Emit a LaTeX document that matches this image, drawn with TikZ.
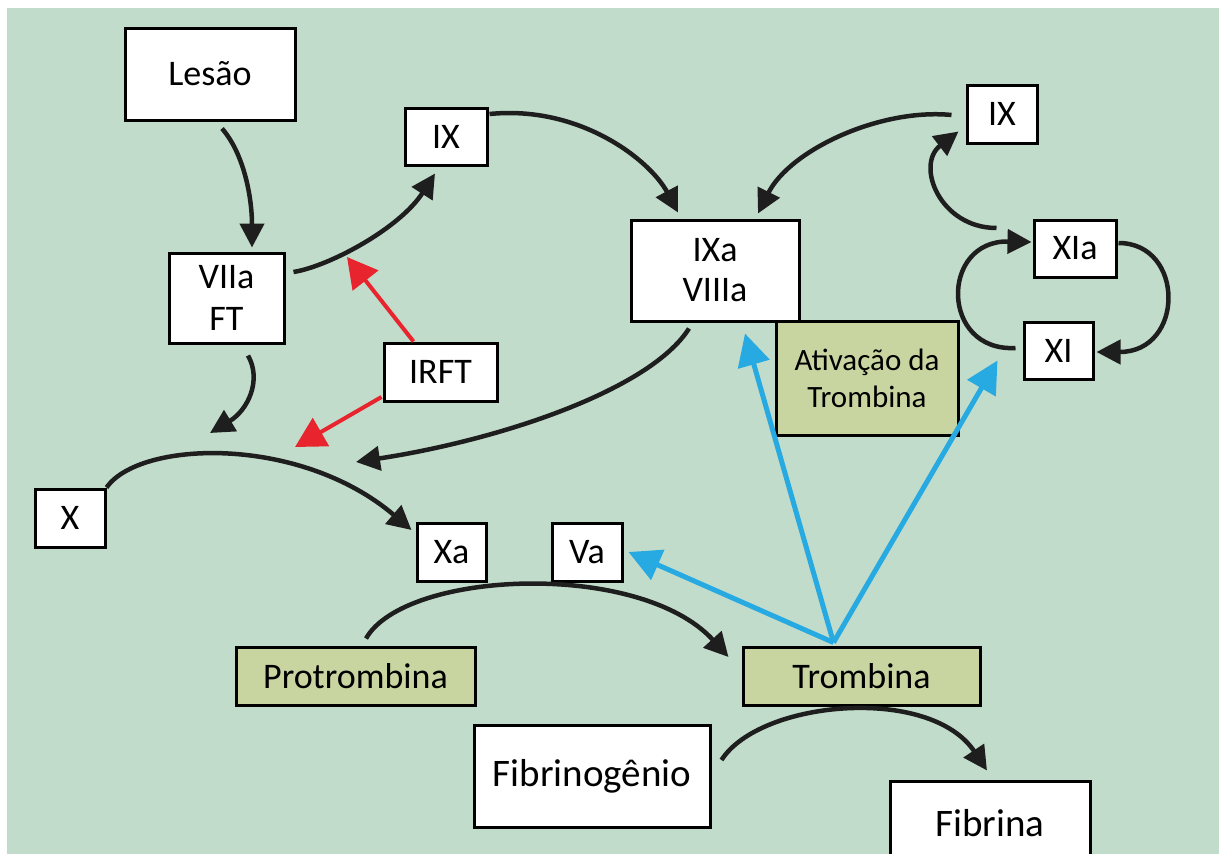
\documentclass[tikz,border=0pt]{standalone}
\usepackage{fontspec}
\setmainfont{Carlito}
\usetikzlibrary{arrows.meta,calc}
\definecolor{bg}{HTML}{C2DCCB}
\definecolor{olivefill}{HTML}{C9D5A0}
\definecolor{ablue}{HTML}{27AAE1}
\definecolor{ared}{HTML}{E8252E}
\definecolor{ink}{HTML}{1E1E1E}
\begin{document}
\begin{tikzpicture}[x=1pt,y=-1pt,
  box/.style={draw=black,line width=3pt,fill=white,inner sep=0pt,align=center,
    font=\fontsize{36}{42}\selectfont},
  obox/.style={box,fill=olivefill},
  blk/.style={draw=ink,line width=4.5pt,-{Triangle[length=24pt,width=24pt]}},
  redarr/.style={draw=ared,line width=4pt,-{Triangle[length=30pt,width=32pt]}},
  bluarr/.style={draw=ablue,line width=5pt,-{Triangle[length=32pt,width=32pt]}}]
\useasboundingbox (0,0) rectangle (1219,854);
\fill[white] (0,0) rectangle (1219,854);
\begin{scope}
\clip (7,8) rectangle (1219,854);
\fill[bg] (7,8) rectangle (1219,854);

% nodes
\node[box,minimum width=170pt,minimum height=92pt] (lesao) at (210,74) {Lesão};
\node[box,minimum width=115pt,minimum height=90pt] (vii) at (226.5,298) {VIIa\\FT};
\node[box,minimum width=82pt,minimum height=57pt] (ixL) at (446,136.5) {IX};
\node[box,minimum width=168pt,minimum height=101pt,font=\fontsize{36}{40}\selectfont] (ixa) at (715,270.5) {IXa\\VIIIa};
\node[box,minimum width=70pt,minimum height=58pt] (ixR) at (1002,114) {IX};
\node[box,minimum width=82pt,minimum height=57pt] (xia) at (1075,248.5) {XIa};
\node[box,minimum width=69pt,minimum height=57pt] (xi) at (1058.5,350.5) {XI};
\node[obox,minimum width=182pt,minimum height=114pt,font=\fontsize{31}{37}\selectfont] (ativ) at (867,378) {Ativação da\\Trombina};
\node[box,minimum width=113pt,minimum height=58pt] (irft) at (440.5,372) {IRFT};
\node[box,minimum width=70pt,minimum height=58pt] (x) at (70,518) {X};
\node[box,minimum width=69pt,minimum height=58pt] (xa) at (451.5,552) {Xa};
\node[box,minimum width=70pt,minimum height=58pt] (va) at (587,552) {Va};
\node[obox,minimum width=239pt,minimum height=58pt,font=\fontsize{36}{42}\selectfont] (prot) at (355.5,676) {Protrombina};
\node[obox,minimum width=237pt,minimum height=58pt,font=\fontsize{36}{42}\selectfont] (trom) at (861.5,676) {Trombina};
\node[box,minimum width=236pt,minimum height=102pt,font=\fontsize{39}{46}\selectfont] (fibg) at (592,776) {Fibrinogênio};
\node[box,minimum width=200pt,minimum height=84pt,font=\fontsize{39}{46}\selectfont] (fibr) at (990,823) {Fibrina};

% free ends
\coordinate (jVII) at (210,433);
\coordinate (jRedA) at (347,257);
\coordinate (jRedB) at (295,447);
\coordinate (jIXa) at (356,462);
\coordinate (bo) at ($(trom.north)+(-28,-3)$);

% black connectors
\draw[blk] ($(lesao.south)+(12,7)$) .. controls (245,155) and (252,200) .. ($(vii.north)+(25.5,-4)$);
\draw[blk] ($(vii.east)+(8,-26)$) .. controls (330,266) and (400,228) .. ($(ixL.south)+(-11,7)$);
\draw[blk] ($(ixL.east)+(1,-22.5)$) .. controls (580,105) and (650,160) .. ($(ixa.north)+(-37,-6)$);
\draw[blk] ($(ixR.west)+(-14,1)$) .. controls (880,108) and (790,150) .. ($(ixa.north)+(43,-5)$);
\draw[blk] ($(xia.west)+(-36,-20.5)$) .. controls (940,228) and (915,165) .. ($(ixR.south west)+(-7,-13)$);
\draw[blk] ($(xi.west)+(-7,-2.5)$) .. controls (940,352) and (940,240) .. ($(xia.west)+(-1,-6.5)$);
\draw[blk] ($(xia.east)+(1,-5.5)$) .. controls (1185,243) and (1185,352) .. ($(xi.east)+(2,1.5)$);
\draw[blk] ($(vii.south)+(21.5,11)$) .. controls (262,380) and (248,410) .. (jVII);
\draw[blk] (x.north east) .. controls (140,440) and (300,435) .. ($(xa.west)+(-4,-22)$);
\draw[blk] ($(ixa.south)+(-26,6)$) .. controls (650,390) and (500,440) .. (jIXa);
\draw[blk] ($(prot.north)+(10.5,-7)$) .. controls (405,570) and (640,560) .. ($(trom.west)+(-13,-19)$);
\draw[blk] ($(fibg.east)+(10,-16)$) .. controls (760,700) and (930,685) .. ($(fibr.north)+(-3,-9)$);

% red connectors
\draw[redarr] ($(irft.north)+(-27,0)$) -- (jRedA);
\draw[redarr] ($(irft.west)+(-1,25)$) -- (jRedB);

% blue connectors
\draw[bluarr] (bo) -- ($(ixa.south)+(30,11)$);
\draw[bluarr] (bo) -- ($(xi.west)+(-25,10)$);
\draw[bluarr] (bo) -- ($(va.east)+(5,0)$);
\end{scope}
\end{tikzpicture}
\end{document}
